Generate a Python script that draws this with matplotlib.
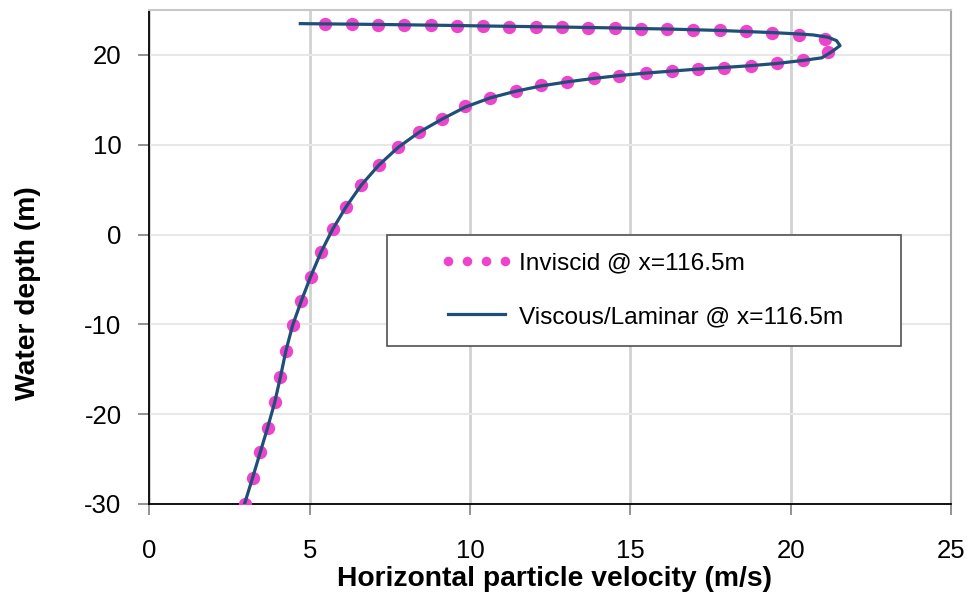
import matplotlib
matplotlib.use("Agg")
import matplotlib.pyplot as plt
from matplotlib.patches import Rectangle

# ---- data ----
inviscid_x = [2.97, 3.22, 3.46, 3.69, 3.91, 4.09, 4.25, 4.47, 4.74, 5.03, 5.35, 5.72,
              6.14, 6.61, 7.15, 7.76, 8.42, 9.13, 9.86, 10.62, 11.42, 12.23, 13.04,
              13.86, 14.66, 15.48, 16.30, 17.12, 17.93, 18.75, 19.56, 20.38, 21.17,
              21.07, 20.25, 19.43, 18.61, 17.79, 16.97, 16.15, 15.33, 14.51, 13.69,
              12.87, 12.05, 11.23, 10.41, 9.59, 8.77, 7.95, 7.13, 6.31, 5.49]
inviscid_y = [-30.0, -27.1, -24.25, -21.5, -18.7, -15.85, -12.95, -10.1, -7.4, -4.7,
              -2.0, 0.6, 3.1, 5.5, 7.7, 9.7, 11.45, 12.9, 14.3, 15.25, 16.0, 16.6,
              17.03, 17.4, 17.7, 17.95, 18.22, 18.44, 18.59, 18.81, 19.07, 19.48, 20.29,
              21.78, 22.18, 22.45, 22.62, 22.74, 22.81, 22.89, 22.92, 23.0, 23.04,
              23.07, 23.11, 23.15, 23.18, 23.26, 23.29, 23.34, 23.37, 23.40, 23.45]

viscous_x = [2.97, 3.22, 3.46, 3.69, 3.91, 4.09, 4.26, 4.47, 4.74, 5.03, 5.35, 5.72,
             6.14, 6.61, 7.15, 7.76, 8.42, 9.13, 9.86, 10.62, 11.42, 12.23, 13.04,
             13.86, 14.66, 15.48, 16.30, 17.12, 17.93, 18.75, 19.56, 20.36, 20.97,
             21.17, 21.33, 21.54, 21.43, 21.17, 20.70, 20.25, 19.44, 18.61, 17.79,
             16.97, 16.15, 15.33, 14.51, 13.69, 12.87, 12.05, 11.23, 10.41, 9.59,
             8.77, 7.95, 7.13, 6.31, 5.49, 4.71]
viscous_y = [-30.0, -27.1, -24.25, -21.5, -18.7, -15.85, -12.95, -10.1, -7.4, -4.7,
             -2.0, 0.6, 3.1, 5.5, 7.7, 9.7, 11.4, 12.85, 14.2, 15.2, 15.95, 16.55,
             17.0, 17.38, 17.7, 17.97, 18.2, 18.42, 18.6, 18.8, 19.04, 19.37, 19.67,
             20.1, 20.48, 21.03, 21.59, 21.96, 22.22, 22.33, 22.48, 22.6, 22.72,
             22.8, 22.88, 22.93, 23.0, 23.05, 23.1, 23.14, 23.18, 23.22, 23.27,
             23.31, 23.35, 23.39, 23.42, 23.45, 23.48]

x_ticks = [0, 5, 10, 15, 20, 25]
y_ticks = [-30, -20, -10, 0, 10, 20]
label_inviscid = "Inviscid @ x=116.5m"
label_viscous = "Viscous/Laminar @ x=116.5m"
x_label = "Horizontal particle velocity (m/s)"
y_label = "Water depth (m)"

plt.rcParams['font.family'] = ['Liberation Sans', 'DejaVu Sans']
plt.rcParams['axes.unicode_minus'] = False

fig = plt.figure(figsize=(9.70, 5.97), dpi=100)
ax = fig.add_axes([0.1539, 0.1558, 0.8265, 0.8275])

ax.plot(inviscid_x, inviscid_y, linestyle='none', marker='o', markersize=9.6,
        color='#EE44CC', markeredgewidth=0, label=label_inviscid, zorder=3)
ax.plot(viscous_x, viscous_y, color='#1F4E79', linewidth=2.3,
        label=label_viscous, zorder=4)

ax.set_xlim(0, 25)
ax.set_ylim(-30, 25)
ax.set_xticks(x_ticks)
ax.set_yticks(y_ticks)
ax.tick_params(axis='both', labelsize=18.5, color='#808080', length=8, width=1.2,
               direction='out')
ax.tick_params(axis='y', pad=12)
ax.tick_params(axis='x', pad=17)

ax.xaxis.grid(True, color='#D2D2D2', linewidth=2.0)
ax.yaxis.grid(True, color='#E8E8E8', linewidth=1.5)
ax.set_axisbelow(True)

for s in ['left', 'bottom']:
    ax.spines[s].set_color('black')
    ax.spines[s].set_linewidth(1.3)
ax.spines['top'].set_color('#C8C8C8')
ax.spines['top'].set_linewidth(1.5)
ax.spines['right'].set_color('#A8A8A8')
ax.spines['right'].set_linewidth(1.5)

ax.set_xlabel(x_label, fontsize=20.3, fontweight='bold')
ax.set_ylabel(y_label, fontsize=20.3, fontweight='bold')
ax.xaxis.set_label_coords(0.505, -0.126)
ax.yaxis.set_label_coords(-0.1355, 0.427)

# legend frame
frame = Rectangle((0.297, 0.320), 0.641, 0.225, transform=ax.transAxes,
                  facecolor='white', edgecolor='#505050', linewidth=1.2, zorder=5)
ax.add_patch(frame)
leg = ax.legend(loc='upper left', bbox_to_anchor=(0.364, 0.510), frameon=False,
                fontsize=17.6, handlelength=2.9, handletextpad=0.3, labelspacing=1.3,
                borderpad=0, borderaxespad=0, numpoints=4, markerscale=0.72)
leg.set_zorder(6)

fig.savefig("out.png", dpi=100)
